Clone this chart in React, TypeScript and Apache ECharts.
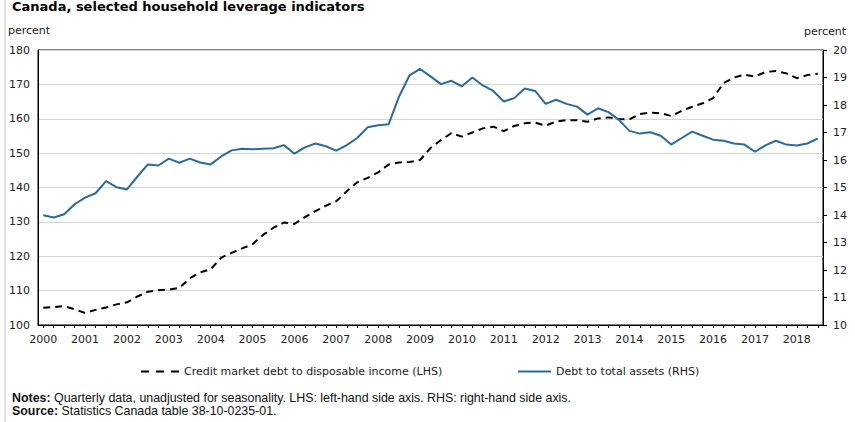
import { useRef, useEffect } from 'react';
import * as echarts from 'echarts';

// Quarterly categories, 2000 Q1 to 2018 Q3
const years = [2000, 2001, 2002, 2003, 2004, 2005, 2006, 2007, 2008, 2009, 2010, 2011, 2012, 2013, 2014, 2015, 2016, 2017, 2018];
const quarterNames = ['Q1', 'Q2', 'Q3', 'Q4'];
const categories: string[] = [];
years.forEach((y) => quarterNames.forEach((q) => categories.push(`${y} ${q}`)));
categories.splice(75);

// Credit market debt to disposable income (LHS, percent)
const creditToIncome = [
  105.0, 105.2, 105.5, 104.6, 103.5, 104.4, 105.1, 106.0, 106.6, 108.3,
  109.7, 110.1, 110.3, 110.8, 113.6, 115.3, 116.2, 119.6, 121.0, 122.3,
  123.5, 126.2, 128.3, 129.8, 129.4, 131.4, 133.1, 134.7, 136.0, 138.9,
  141.5, 142.8, 144.4, 146.7, 147.3, 147.4, 148.0, 151.5, 153.8, 155.8,
  154.8, 156.0, 157.2, 157.7, 156.4, 157.9, 158.7, 158.9, 158.0, 159.2,
  159.6, 159.6, 159.1, 160.1, 160.4, 159.9, 159.8, 161.4, 161.8, 161.6,
  160.8, 162.3, 163.5, 164.5, 166.0, 170.4, 172.0, 172.8, 172.3, 173.6,
  173.9, 173.2, 171.8, 172.7, 173.1,
];

// Debt to total assets (RHS, percent)
const debtToAssets = [
  13.99, 13.91, 14.03, 14.39, 14.63, 14.79, 15.23, 15.01, 14.93, 15.40,
  15.84, 15.80, 16.05, 15.90, 16.05, 15.91, 15.84, 16.13, 16.35, 16.41,
  16.39, 16.41, 16.43, 16.54, 16.23, 16.46, 16.60, 16.50, 16.34, 16.54,
  16.80, 17.19, 17.26, 17.30, 18.31, 19.08, 19.31, 19.04, 18.76, 18.88,
  18.68, 19.00, 18.71, 18.51, 18.13, 18.25, 18.60, 18.51, 18.04, 18.19,
  18.04, 17.94, 17.65, 17.88, 17.74, 17.46, 17.06, 16.96, 17.01, 16.88,
  16.56, 16.80, 17.03, 16.88, 16.74, 16.70, 16.60, 16.56, 16.30, 16.53,
  16.70, 16.56, 16.53, 16.60, 16.78,
];

const seriesNames = ['Credit market debt to disposable income (LHS)', 'Debt to total assets (RHS)'];

const AXIS_FONT = '"DejaVu Sans", Verdana, sans-serif';
const NOTE_FONT = '"Liberation Sans", Arial, sans-serif';
const BLUE = '#2c6a9c';

// legend icons: three short dashes, and a plain bar
const DASH_ICON = 'path://M0,0h8v2h-8z M15,0h8v2h-8z M30,0h8v2h-8z';

export default function App() {
  const chartRef = useRef<HTMLDivElement>(null);

  useEffect(() => {
    if (!chartRef.current) return;
    const chart = echarts.init(chartRef.current, undefined, { renderer: 'svg' });

    const legendText = { fontFamily: AXIS_FONT, fontSize: 11, color: '#222' };

    const option: echarts.EChartsOption = {
      animation: false,
      backgroundColor: '#fff',
      grid: {
        left: 38,
        right: 32,
        top: 50,
        bottom: 97,
        show: true,
        borderColor: '#000',
        borderWidth: 1,
      },
      legend: [
        {
          data: [{ name: seriesNames[0], icon: DASH_ICON }],
          left: 141,
          top: 366,
          padding: 0,
          itemWidth: 38,
          itemHeight: 2,
          textStyle: legendText,
        },
        {
          data: [{ name: seriesNames[1], icon: 'rect' }],
          left: 518,
          top: 366,
          padding: 0,
          itemWidth: 33,
          itemHeight: 2,
          textStyle: legendText,
        },
      ],
      xAxis: {
        type: 'category',
        data: categories,
        boundaryGap: true,
        axisLine: { lineStyle: { color: '#000', width: 1 } },
        axisTick: { show: true, interval: 0, alignWithLabel: true, length: 3, lineStyle: { color: '#000' } },
        axisLabel: {
          interval: 3,
          margin: 9,
          color: '#222',
          fontFamily: AXIS_FONT,
          fontSize: 11,
          formatter: (v: string) => v.slice(0, 4),
        },
        splitLine: { show: false },
      },
      yAxis: [
        {
          type: 'value',
          min: 100,
          max: 180,
          interval: 10,
          position: 'left',
          axisLine: { show: true, lineStyle: { color: '#000' } },
          axisTick: { show: false },
          axisLabel: { margin: 8, color: '#222', fontFamily: AXIS_FONT, fontSize: 11 },
          splitLine: { show: true, lineStyle: { color: '#d4d4d4', width: 1 } },
        },
        {
          type: 'value',
          min: 10,
          max: 20,
          interval: 1,
          position: 'right',
          axisLine: { show: true, lineStyle: { color: '#000' } },
          axisTick: { show: true, length: 4, lineStyle: { color: '#000' } },
          axisLabel: { margin: 10, color: '#222', fontFamily: AXIS_FONT, fontSize: 11 },
          splitLine: { show: false },
        },
      ],
      series: [
        {
          name: seriesNames[0],
          type: 'line',
          yAxisIndex: 0,
          data: creditToIncome,
          symbol: 'none',
          lineStyle: { color: '#000', width: 2, type: [7, 5] },
          itemStyle: { color: '#000' },
        },
        {
          name: seriesNames[1],
          type: 'line',
          yAxisIndex: 1,
          data: debtToAssets,
          symbol: 'none',
          lineStyle: { color: BLUE, width: 2 },
          itemStyle: { color: BLUE },
        },
      ],
      graphic: [
        {
          type: 'line',
          shape: { x1: 5, y1: 0, x2: 5, y2: 422 },
          style: { stroke: '#e2e2e2', lineWidth: 2 },
        },
        {
          type: 'text',
          x: 12,
          y: 0,
          style: {
            text: 'Canada, selected household leverage indicators',
            font: `bold 13px ${AXIS_FONT}`,
            fill: '#000',
            verticalAlign: 'top',
          },
        },
        {
          type: 'text',
          x: 8,
          y: 25,
          style: { text: 'percent', font: `11px ${AXIS_FONT}`, fill: '#222', verticalAlign: 'top' },
        },
        {
          type: 'text',
          x: 804,
          y: 26,
          style: { text: 'percent', font: `11px ${AXIS_FONT}`, fill: '#222', verticalAlign: 'top' },
        },
        {
          type: 'text',
          x: 12,
          y: 391,
          style: {
            text: '{b|Notes:} Quarterly data, unadjusted for seasonality. LHS: left-hand side axis. RHS: right-hand side axis.\n{b|Source:} Statistics Canada table 38-10-0235-01.',
            font: `12.4px ${NOTE_FONT}`,
            fill: '#111',
            lineHeight: 13,
            verticalAlign: 'top',
            rich: {
              b: { fontWeight: 'bold', fontFamily: NOTE_FONT, fontSize: 12.4, fill: '#111', lineHeight: 13 },
            },
          },
        },
      ],
    };

    chart.setOption(option);
    return () => chart.dispose();
  }, []);

  return (
    <div
      ref={chartRef}
      style={{ position: 'fixed', left: 0, top: 0, width: 855, height: 422, background: '#fff' }}
    />
  );
}
